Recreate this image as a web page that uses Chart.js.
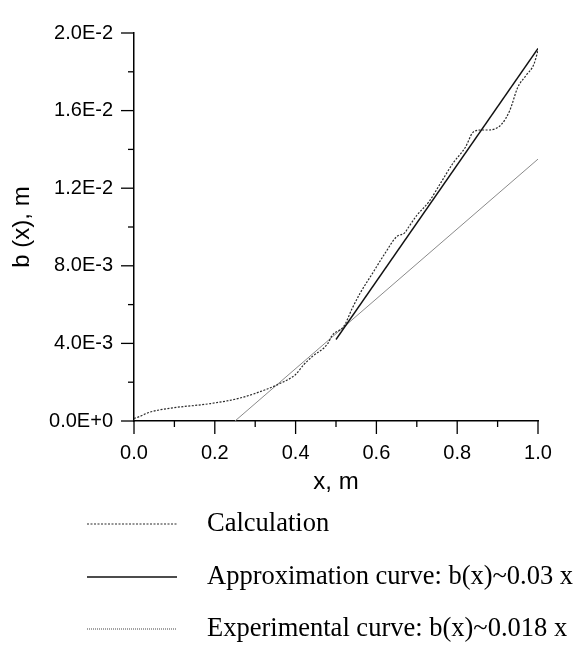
<!DOCTYPE html>
<html>
<head>
<meta charset="utf-8">
<script src="https://cdn.jsdelivr.net/npm/chart.js@4/dist/chart.umd.min.js"></script>
<style>
  html, body { margin: 0; padding: 0; background: #fff; }
  #wrap { width: 580px; height: 645px; }
</style>
</head>
<body>
<div id="wrap"><canvas id="myChart" width="580" height="645"></canvas></div>
<script>
// values
const calcX = [0, 0.01, 0.04, 0.09, 0.19, 0.26, 0.33, 0.36, 0.40, 0.42, 0.44, 0.48, 0.49, 0.52, 0.54, 0.56,
  0.59, 0.62, 0.65, 0.67, 0.68, 0.70, 0.73, 0.76, 0.79, 0.82, 0.84, 0.86, 0.88, 0.91, 0.93, 0.95, 0.97, 0.99, 1.0];
const calcY = [0.00013, 0.0002, 0.00046, 0.00066, 0.0009, 0.00117, 0.00165, 0.00192, 0.0024, 0.0029, 0.0033,
  0.0040, 0.0044, 0.0049, 0.0058, 0.0066, 0.0076, 0.0086, 0.0095, 0.0097, 0.0100, 0.0106, 0.0113, 0.0123,
  0.0133, 0.0141, 0.0149, 0.0150, 0.0150, 0.0153, 0.0160, 0.0172, 0.0178, 0.0184, 0.0191];
const approxX = [0.5, 1.0];
const approxY = [0.0042, 0.0192];
const expX = [0.25, 1.0];
const expY = [0.0, 0.0135];

const seriesNames = ["Calculation", "Approximation curve: b(x)~0.03 x", "Experimental curve: b(x)~0.018 x"];
const xTitle = "x, m";
const yTitle = "b (x), m";

function pts(xs, ys) {
  return xs.map((x, i) => ({ x: x, y: ys[i] }));
}

// axis tick marks: long ones where there is a label, short ones between
const tickMarks = {
  id: "tickMarks",
  afterDraw(chart) {
    const ctx = chart.ctx;
    const xs = chart.scales.x, ys = chart.scales.y;
    const area = chart.chartArea;
    ctx.save();
    ctx.strokeStyle = "#000";
    ctx.lineWidth = 1.3;
    xs.ticks.forEach((t) => {
      const px = xs.getPixelForValue(t.value);
      const len = Math.round(t.value * 10) % 2 === 0 ? 13 : 6;
      ctx.beginPath();
      ctx.moveTo(px, area.bottom);
      ctx.lineTo(px, area.bottom + len);
      ctx.stroke();
    });
    ys.ticks.forEach((t) => {
      const py = ys.getPixelForValue(t.value);
      const len = Math.round(t.value / 0.002) % 2 === 0 ? 13 : 6;
      ctx.beginPath();
      ctx.moveTo(area.left, py);
      ctx.lineTo(area.left - len, py);
      ctx.stroke();
    });
    ctx.restore();
  }
};

// legend rows stacked under the chart
const rowLegend = {
  id: "rowLegend",
  afterDraw(chart, args, opts) {
    const ctx = chart.ctx;
    ctx.save();
    ctx.font = opts.font;
    ctx.textBaseline = "middle";
    ctx.fillStyle = "#000";
    chart.data.datasets.forEach((ds, i) => {
      const y = opts.rows[i];
      ctx.strokeStyle = ds.legendColor || ds.borderColor;
      ctx.lineWidth = ds.borderWidth;
      ctx.setLineDash(ds.legendDash || ds.borderDash || []);
      ctx.beginPath();
      ctx.moveTo(opts.x0, y);
      ctx.lineTo(opts.x1, y);
      ctx.stroke();
      ctx.setLineDash([]);
      ctx.fillText(ds.label, opts.textX, y);
    });
    ctx.restore();
  }
};

const data = {
  datasets: [
    {
      label: seriesNames[0],
      data: pts(calcX, calcY),
      borderColor: "#2a2a2a",
      borderWidth: 1.2,
      borderDash: [2, 1.5],
      cubicInterpolationMode: "monotone",
      pointRadius: 0,
      fill: false,
    },
    {
      label: seriesNames[1],
      data: pts(approxX, approxY),
      borderColor: "#111",
      borderWidth: 1.4,
      pointRadius: 0,
      fill: false,
    },
    {
      label: seriesNames[2],
      data: pts(expX, expY),
      borderColor: "#8a8a8a",
      borderWidth: 1,
      legendColor: "#444",
      legendDash: [1, 1],
      pointRadius: 0,
      fill: false,
    },
  ],
};

const tickFont = { family: "'Liberation Sans', Arial, sans-serif", size: 20 };
const titleFont = { family: "'Liberation Sans', Arial, sans-serif", size: 24 };

const config = {
  type: "line",
  data: data,
  options: {
    responsive: false,
    animation: false,
    layout: { padding: { top: 17, right: 42, bottom: 147, left: 0 } },
    plugins: {
      legend: { display: false },
      tooltip: { enabled: false },
      rowLegend: {
        rows: [524, 577, 629],
        x0: 87, x1: 177, textX: 207,
        font: "26.5px 'Liberation Serif', 'Times New Roman', serif",
      },
    },
    scales: {
      x: {
        type: "linear",
        min: 0, max: 1,
        afterFit(scale) { scale.height = 77; },
        ticks: {
          stepSize: 0.1,
          padding: 20,
          color: "#000",
          font: tickFont,
          maxRotation: 0,
          autoSkip: false,
          callback: (v) => (Math.round(v * 10) % 2 === 0 ? v.toFixed(1) : ""),
        },
        grid: { display: true, drawOnChartArea: false, drawTicks: false },
        border: { display: true, color: "#000", width: 1.5 },
        title: { display: true, text: xTitle, color: "#000", font: titleFont, padding: { top: 0, bottom: 1 } },
      },
      y: {
        type: "linear",
        min: 0, max: 0.02,
        afterFit(scale) { scale.width = 134; },
        ticks: {
          stepSize: 0.002,
          padding: 21,
          color: "#000",
          font: tickFont,
          autoSkip: false,
          callback: (v) => (Math.round(v / 0.002) % 2 === 0 ? v.toExponential(1).toUpperCase() : ""),
        },
        grid: { display: true, drawOnChartArea: false, drawTicks: false },
        border: { display: true, color: "#000", width: 1.5 },
        title: { display: true, text: yTitle, color: "#000", font: titleFont, padding: { top: 8, bottom: 0 } },
      },
    },
  },
  plugins: [tickMarks, rowLegend],
};

const chart = new Chart(document.querySelector("#myChart"), config);
</script>
</body>
</html>
